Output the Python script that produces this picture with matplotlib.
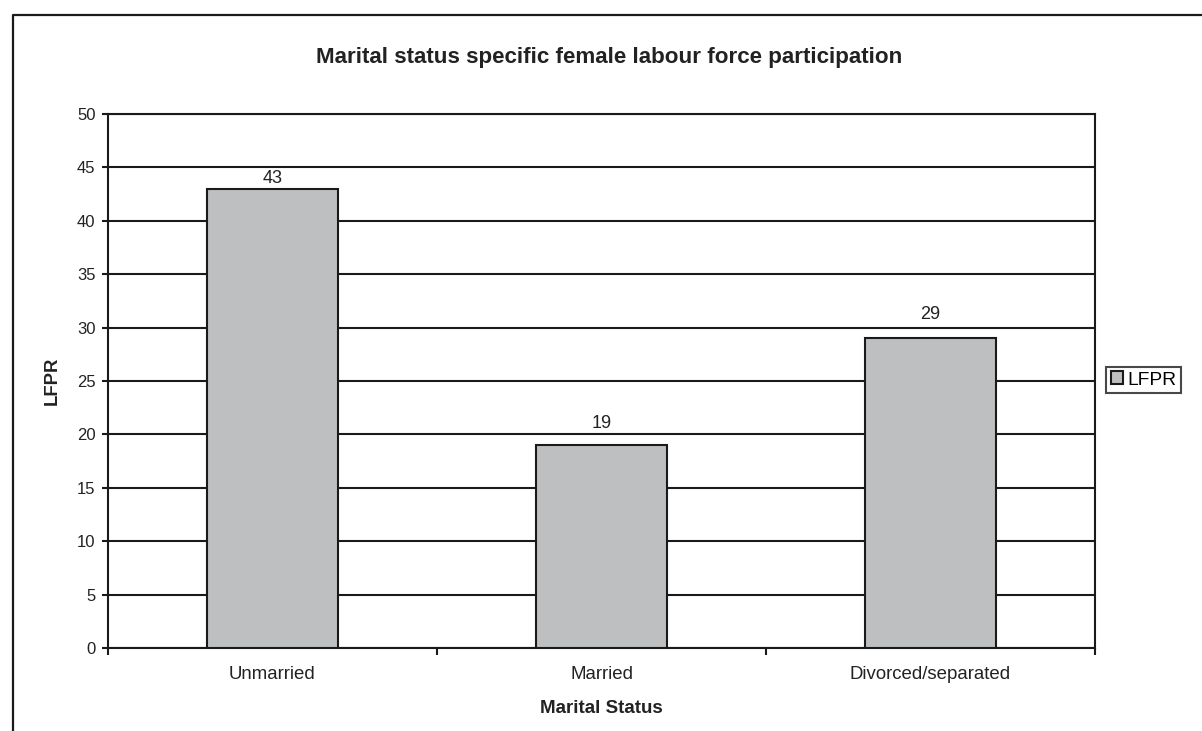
import matplotlib.pyplot as plt
from matplotlib.lines import Line2D

plt.rcParams['font.family'] = ['Liberation Sans', 'DejaVu Sans']

# data
categories = ['Unmarried', 'Married', 'Divorced/separated']
lfpr = [43, 19, 29]
y_ticks = [0, 5, 10, 15, 20, 25, 30, 35, 40, 45, 50]

# the value labels sit at different heights above their bars in the original
label_offsets = [1, 9.3, 10.7]

W, H = 1202, 731
fig = plt.figure(figsize=(W / 100, H / 100), dpi=100)
ax = fig.add_axes([108 / W, 1 - 648 / H, (1095 - 108) / W, (648 - 114) / H])

x = list(range(len(categories)))
bars = ax.bar(x, lfpr, width=0.4, color='#bebfc1', edgecolor='#1a1a1a',
              linewidth=1.5, label='LFPR', zorder=3)
for xi, v, off in zip(x, lfpr, label_offsets):
    ax.annotate(str(v), (xi, v), xytext=(0, off), textcoords='offset points',
                ha='center', va='bottom', fontsize=13, color='#222222')

ax.set_xlim(-0.5, len(categories) - 0.5)
ax.set_ylim(0, 50)
ax.set_yticks(y_ticks)
ax.set_xticks(x)
ax.set_xticklabels(categories)
ax.set_xticks([i - 0.5 for i in range(len(categories) + 1)], minor=True)

ax.yaxis.grid(True, color='#1a1a1a', linewidth=1.5, zorder=0)
ax.set_axisbelow(True)
for s in ax.spines.values():
    s.set_color('#1a1a1a')
    s.set_linewidth(1.5)

ax.tick_params(axis='y', direction='out', length=4, width=1.5, pad=5,
               labelsize=12, colors='#1a1a1a', labelcolor='#222222')
ax.tick_params(axis='x', which='major', length=0, pad=13, labelsize=13.4,
               labelcolor='#222222')
ax.tick_params(axis='x', which='minor', direction='out', length=5, width=1.5,
               color='#1a1a1a')

ax.set_xlabel('Marital Status', fontsize=13.5, fontweight='bold', color='#222222')
ax.xaxis.set_label_coords(0.5, -(700 - 648) / (648 - 114))
ax.set_ylabel('LFPR', fontsize=13.3, fontweight='bold', color='#222222')
ax.yaxis.set_label_coords(-(108 - 61) / (1095 - 108), 0.5)

fig.text(0.5 * (317 + 902) / W, 1 - 57 / H,
         'Marital status specific female labour force participation',
         ha='center', va='center', fontsize=16.1, fontweight='bold', color='#222222')

leg = fig.legend(loc='center left', bbox_to_anchor=(1106 / W, 1 - 380 / H),
                 fontsize=13.8, frameon=True, fancybox=False, shadow=False,
                 handlelength=0.65, handleheight=0.65, handletextpad=0.2,
                 borderpad=0.25, borderaxespad=0)
leg.get_frame().set_edgecolor('#1a1a1a')
leg.get_frame().set_linewidth(1.5)

# outer chart border (left and top)
fig.add_artist(Line2D([13 / W, 13 / W, 1.0], [0.0, 1 - 15 / H, 1 - 15 / H],
                      color='#1a1a1a', linewidth=1.6, transform=fig.transFigure))

fig.savefig('out.png', dpi=100)
